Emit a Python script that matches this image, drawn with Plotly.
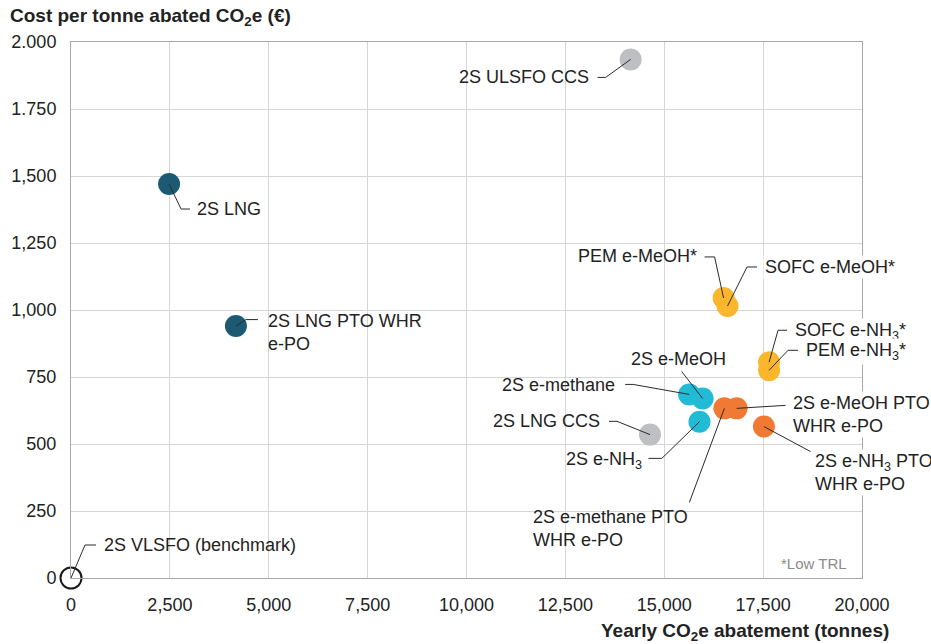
import plotly.graph_objects as go

# ---------------- data ----------------
technologies = [
    "2S VLSFO (benchmark)", "2S LNG", "2S LNG PTO WHR e-PO", "2S ULSFO CCS", "2S LNG CCS",
    "PEM e-MeOH*", "SOFC e-MeOH*", "SOFC e-NH3*", "PEM e-NH3*",
    "2S e-methane", "2S e-MeOH", "2S e-NH3",
    "2S e-methane PTO WHR e-PO", "2S e-MeOH PTO WHR e-PO", "2S e-NH3 PTO WHR e-PO",
]
label_text = [
    "2S VLSFO (benchmark)", "2S LNG", "2S LNG PTO WHR<br>e-PO", "2S ULSFO CCS", "2S LNG CCS",
    "PEM e-MeOH*", "SOFC e-MeOH*", "SOFC e-NH<sub>3</sub>*", "PEM e-NH<sub>3</sub>*",
    "2S e-methane", "2S e-MeOH", "2S e-NH<sub>3</sub>",
    "2S e-methane PTO<br>WHR e-PO", "2S e-MeOH PTO<br>WHR e-PO", "2S e-NH<sub>3</sub> PTO<br>WHR e-PO",
]
abatement = [0, 2480, 4170, 14150, 14640, 16500, 16600, 17650, 17650,
             15630, 15970, 15890, 16520, 16830, 17520]
cost = [0, 1470, 940, 1935, 535, 1045, 1015, 805, 775,
        685, 670, 583, 633, 633, 565]
group = ["benchmark", "lng", "lng", "ccs", "ccs", "lowtrl", "lowtrl", "lowtrl", "lowtrl",
         "e", "e", "e", "epto", "epto", "epto"]

x_tickvals = [0, 2500, 5000, 7500, 10000, 12500, 15000, 17500, 20000]
x_ticktext = ["0", "2,500", "5,000", "7,500", "10,000", "12,500", "15,000", "17,500", "20,000"]
y_tickvals = [0, 250, 500, 750, 1000, 1250, 1500, 1750, 2000]
y_ticktext = ["0", "250", "500", "750", "1,000", "1,250", "1,500", "1.750", "2.000"]

# ---------------- styles ----------------
FONT = "Liberation Sans, Arial, sans-serif"
TXT = "#222222"
COLORS = {"lng": "#1C5A73", "ccs": "#BEBFC2", "lowtrl": "#FBB62B", "e": "#21BBD6", "epto": "#F07A33"}

# leader geometry in screen pixels relative to the marker (dx right, dy down)
LEADERS = {
    "2S VLSFO (benchmark)": dict(path=[(0, 0), (14, -33), (25, -33)], tx=32, ty=-33, xa="left"),
    "2S LNG": dict(path=[(0, 0), (12, 25), (21, 25)], tx=27, ty=25, xa="left"),
    "2S LNG PTO WHR e-PO": dict(path=[(0, 0), (10, -6.5), (22, -6.5)], tx=31, ty=6.5, xa="left"),
    "2S ULSFO CCS": dict(path=[(0, 0), (-25, 18), (-33, 18)], tx=-41, ty=18, xa="right"),
    "2S LNG CCS": dict(path=[(0, 0), (-33, -13.3), (-41, -13.3)], tx=-49, ty=-13.5, xa="right"),
    "PEM e-MeOH*": dict(path=[(0, 0), (-9, -41), (-19, -41)], tx=-26, ty=-42, xa="right"),
    "SOFC e-MeOH*": dict(path=[(0, 0), (19.5, -39), (29.5, -39)], tx=35, ty=-39, xa="left", bg=True),
    "SOFC e-NH3*": dict(path=[(0, 0), (9, -32), (18, -32)], tx=24, ty=-31, xa="left", bg=True),
    "PEM e-NH3*": dict(path=[(0, 0), (19, -20), (29, -20)], tx=35, ty=-19, xa="left", bg=True),
    "2S e-methane": dict(path=[(0, 0), (-56, -10), (-64, -10)], tx=-73, ty=-9, xa="right"),
    "2S e-MeOH": dict(path=[(0, 0), (-21, -27)], tx=-24, ty=-39, xa="center"),
    "2S e-NH3": dict(path=[(0, 0), (-37.6, 36.6), (-51, 36.6)], tx=-56, ty=38.5, xa="right"),
    "2S e-methane PTO WHR e-PO": dict(path=[(0, 0), (-35, 94)], tx=-192, ty=120, xa="left"),
    "2S e-MeOH PTO WHR e-PO": dict(path=[(0, 0), (49, -3)], tx=54, ty=6.5, xa="left", bg=True),
    "2S e-NH3 PTO WHR e-PO": dict(path=[(0, 0), (46.7, 25)], tx=49, ty=46, xa="left", bg=True),
}

fig = go.Figure()

# benchmark (hollow)
bx = [a for a, g in zip(abatement, group) if g == "benchmark"]
by = [c for c, g in zip(cost, group) if g == "benchmark"]
fig.add_trace(go.Scatter(
    x=bx, y=by, mode="markers", cliponaxis=False, hoverinfo="skip",
    marker=dict(size=21, color="rgba(255,255,255,0)", line=dict(color="#1a1a1a", width=2)),
))
for g in ["ccs", "lng", "lowtrl", "e", "epto"]:
    gx = [a for a, gg in zip(abatement, group) if gg == g]
    gy = [c for c, gg in zip(cost, group) if gg == g]
    fig.add_trace(go.Scatter(
        x=gx, y=gy, mode="markers", cliponaxis=False, hoverinfo="skip",
        marker=dict(size=22, color=COLORS[g], line=dict(width=0)),
    ))

shapes = []
annotations = []
for name, lab, xv, yv in zip(technologies, label_text, abatement, cost):
    L = LEADERS[name]
    pts = L["path"]
    path = "M " + " L ".join(f"{dx} {-dy}" for dx, dy in pts)
    shapes.append(dict(
        type="path", xref="x", yref="y", xsizemode="pixel", ysizemode="pixel",
        xanchor=xv, yanchor=yv, path=path, layer="above",
        line=dict(color="#2a2a2a", width=1),
    ))
    bg = L.get("bg", False)
    annotations.append(dict(
        x=xv, y=yv, xref="x", yref="y", text=lab, showarrow=False,
        xanchor=L["xa"], yanchor="middle", xshift=L["tx"], yshift=-L["ty"],
        align="left" if L["xa"] != "right" else "right",
        font=dict(family=FONT, size=18, color=TXT),
        bgcolor="white" if bg else "rgba(0,0,0,0)", borderpad=1 if bg else 0,
    ))

# titles and note
annotations.append(dict(
    xref="paper", yref="paper", x=-63 / 791, y=1 + 25 / 536, xanchor="left", yanchor="middle",
    text="<b>Cost per tonne abated CO<sub>2</sub>e (€)</b>", showarrow=False,
    font=dict(family=FONT, size=19, color=TXT),
))
annotations.append(dict(
    xref="paper", yref="paper", x=(891 - 71) / 791, y=-54 / 536, xanchor="right", yanchor="middle",
    text="<b>Yearly CO<sub>2</sub>e abatement (tonnes)</b>", showarrow=False,
    font=dict(family=FONT, size=19, color=TXT),
))
annotations.append(dict(
    xref="paper", yref="paper", x=(849 - 71) / 791, y=15 / 536, xanchor="right", yanchor="middle",
    text="*Low TRL", showarrow=False,
    font=dict(family=FONT, size=15, color="#8C8C8C"),
))

fig.update_layout(
    width=931, height=644,
    margin=dict(l=71, r=69, t=42, b=66, autoexpand=False),
    paper_bgcolor="white", plot_bgcolor="white",
    showlegend=False,
    shapes=shapes, annotations=annotations,
    font=dict(family=FONT, size=18, color=TXT),
)
fig.update_xaxes(
    range=[0, 20000], tickvals=x_tickvals, ticktext=x_ticktext,
    showgrid=True, gridcolor="#D6D6D6", gridwidth=1, zeroline=False,
    showline=True, linecolor="#A8A8A8", linewidth=1, mirror=True,
    ticks="", ticklabelstandoff=10, tickfont=dict(family=FONT, size=18, color=TXT),
)
fig.update_yaxes(
    range=[0, 2000], tickvals=y_tickvals, ticktext=y_ticktext,
    showgrid=True, gridcolor="#D6D6D6", gridwidth=1, zeroline=False,
    showline=True, linecolor="#A8A8A8", linewidth=1, mirror=True,
    ticks="", ticklabelstandoff=10, tickfont=dict(family=FONT, size=18, color=TXT),
)

fig.write_html(
    "out.html",
    config={"displayModeBar": False},
    post_script="document.body.style.margin='0';document.body.style.padding='0';",
)
